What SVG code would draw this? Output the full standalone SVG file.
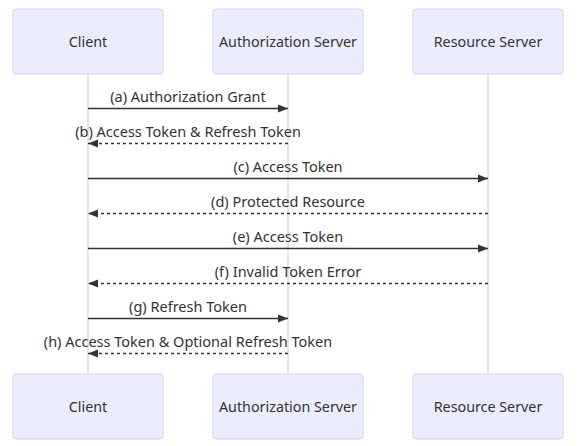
<svg xmlns="http://www.w3.org/2000/svg" width="577" height="446" viewBox="0 0 577 446">
<style>
.actor{fill:#ECECFF;stroke:#d6cdf5;stroke-width:1}
.atext{font-family:"Noto Sans","Open Sans",sans-serif;font-size:14.3px;fill:#333;text-anchor:middle;dominant-baseline:central}
.life{stroke:#dcdcdc;stroke-width:1.5}
.msg{stroke:#333;stroke-width:1.5;fill:none}
.dash{stroke-dasharray:3,3}
.mtext{font-family:"Noto Sans","Open Sans",sans-serif;font-size:14.5px;fill:#333;text-anchor:middle}
</style>
<defs>
<marker id="ah" markerWidth="12" markerHeight="12" refX="10" refY="5" viewBox="0 0 12 10" orient="auto" markerUnits="userSpaceOnUse">
<path d="M0,1 L10,5 L0,9 z" fill="#333"/>
</marker>
</defs>
<g id="lifelines">
<line class="life" x1="88" y1="74" x2="88" y2="373"/>
<line class="life" x1="288" y1="74" x2="288" y2="373"/>
<line class="life" x1="488" y1="74" x2="488" y2="373"/>
</g>
<g id="client-top"><rect class="actor" x="13" y="9" width="150" height="65" rx="3"/><text class="atext" x="88" y="41">Client</text></g>
<g id="auth-top"><rect class="actor" x="213" y="9" width="150" height="65" rx="3"/><text class="atext" x="288" y="41">Authorization Server</text></g>
<g id="res-top"><rect class="actor" x="413" y="9" width="150" height="65" rx="3"/><text class="atext" x="488" y="41">Resource Server</text></g>
<g id="client-bottom"><rect class="actor" x="13" y="374" width="150" height="65" rx="3"/><text class="atext" x="88" y="406">Client</text></g>
<g id="auth-bottom"><rect class="actor" x="213" y="374" width="150" height="65" rx="3"/><text class="atext" x="288" y="406">Authorization Server</text></g>
<g id="res-bottom"><rect class="actor" x="413" y="374" width="150" height="65" rx="3"/><text class="atext" x="488" y="406">Resource Server</text></g>
<g id="connectors">
<line class="msg" x1="88" y1="108.5" x2="288" y2="108.5" marker-end="url(#ah)"/>
<text class="mtext" x="188" y="102">(a) Authorization Grant</text>
<line class="msg dash" x1="288" y1="143.5" x2="88" y2="143.5" marker-end="url(#ah)"/>
<text class="mtext" x="188" y="137">(b) Access Token &amp; Refresh Token</text>
<line class="msg" x1="88" y1="178.5" x2="488" y2="178.5" marker-end="url(#ah)"/>
<text class="mtext" x="288" y="172">(c) Access Token</text>
<line class="msg dash" x1="488" y1="213.5" x2="88" y2="213.5" marker-end="url(#ah)"/>
<text class="mtext" x="288" y="207">(d) Protected Resource</text>
<line class="msg" x1="88" y1="248.5" x2="488" y2="248.5" marker-end="url(#ah)"/>
<text class="mtext" x="288" y="242">(e) Access Token</text>
<line class="msg dash" x1="488" y1="283.5" x2="88" y2="283.5" marker-end="url(#ah)"/>
<text class="mtext" x="288" y="277">(f) Invalid Token Error</text>
<line class="msg" x1="88" y1="318.5" x2="288" y2="318.5" marker-end="url(#ah)"/>
<text class="mtext" x="188" y="312">(g) Refresh Token</text>
<line class="msg dash" x1="288" y1="353.5" x2="88" y2="353.5" marker-end="url(#ah)"/>
<text class="mtext" x="188" y="347">(h) Access Token &amp; Optional Refresh Token</text>
</g>
</svg>
